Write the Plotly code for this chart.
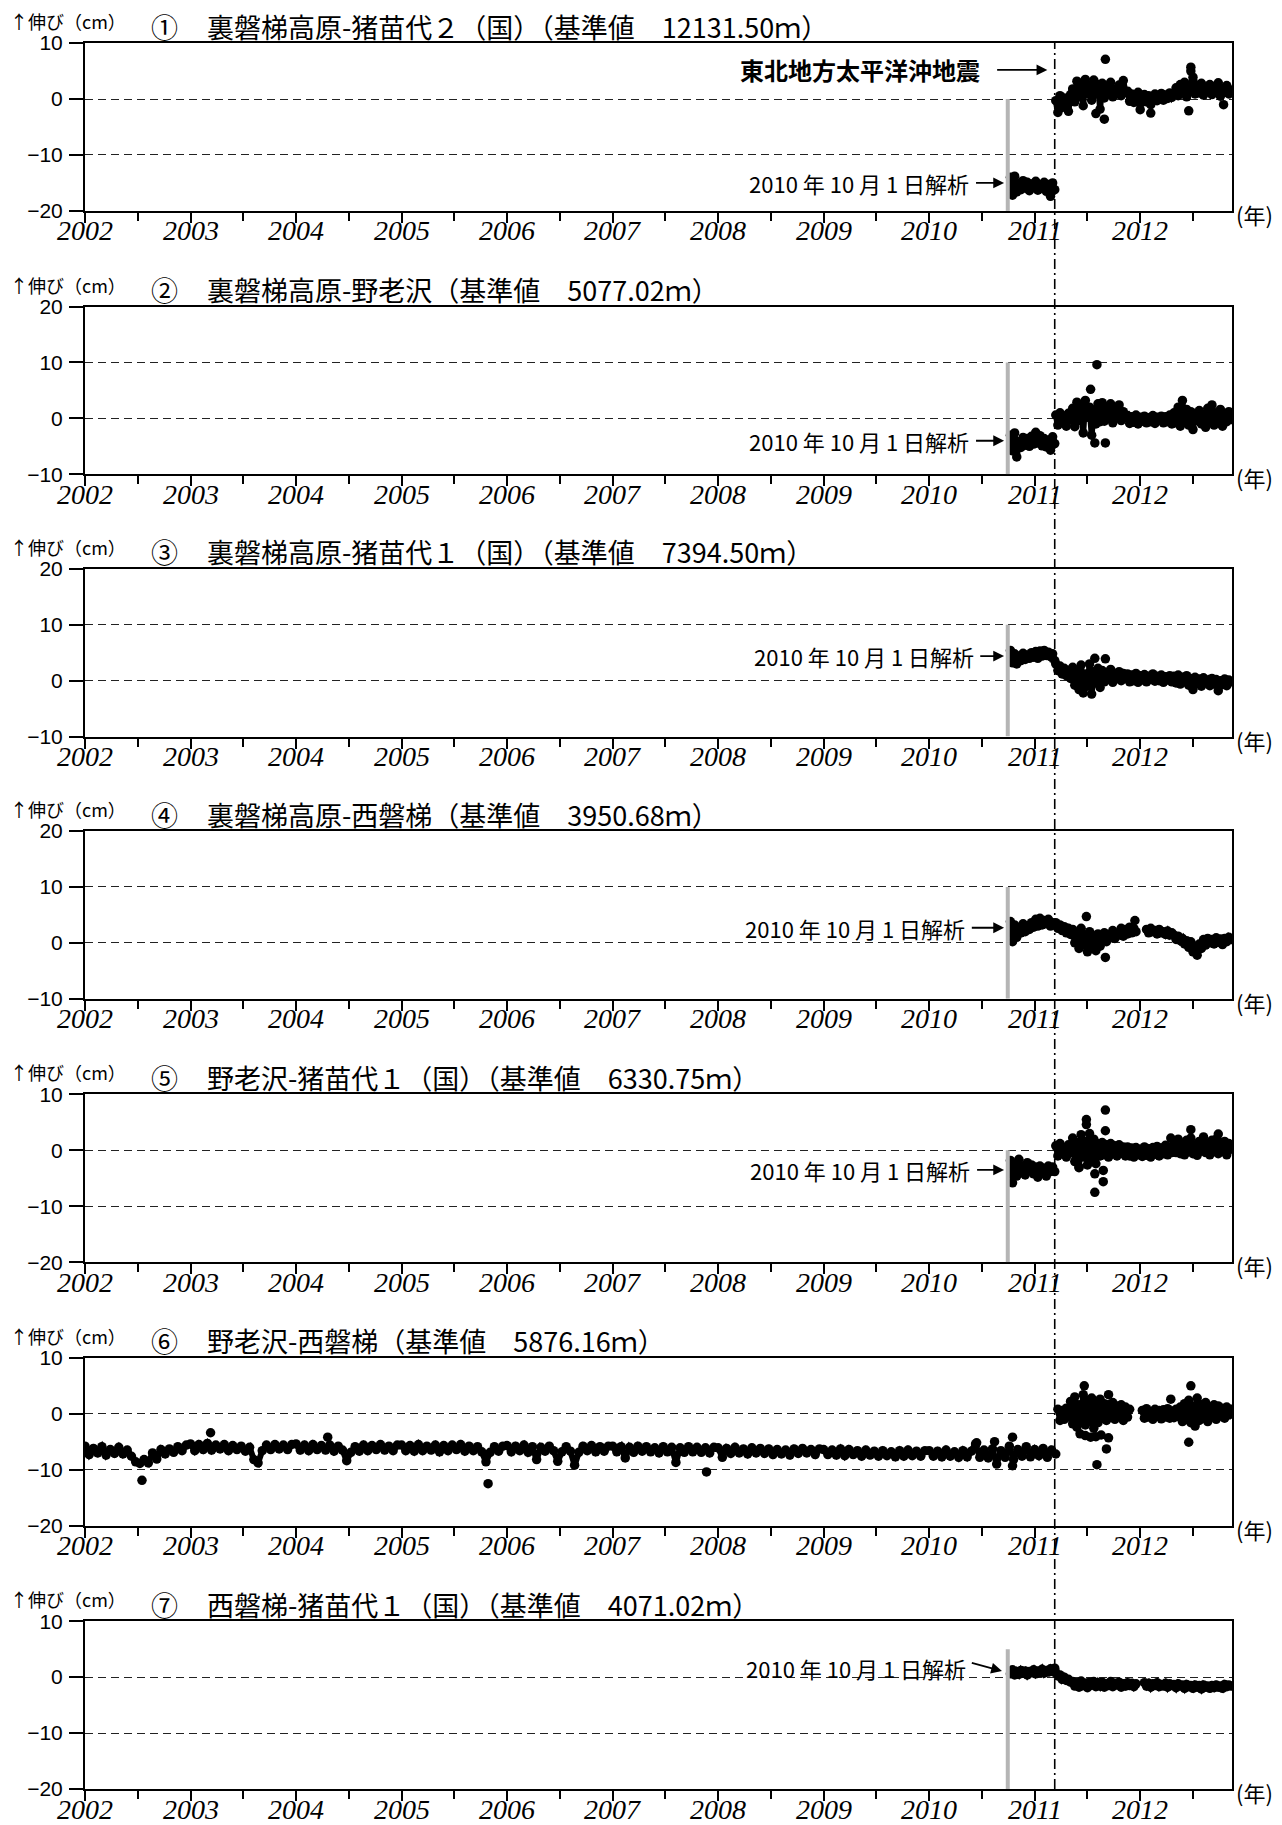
import plotly.graph_objects as go

W, H = 1282, 1825          # browser window
OFF = 8                     # default page body margin
FW, FH = W - OFF, H - OFF   # figure size so it fits the window

STEP = 0.02
PRE_START = 2010.77
POST_START = 2011.20
P6_STEP = 0.04
P6_START = 2002.00
P6_POST_START = 2011.22
QUAKE = 2011.19
REANALYSIS = 2010.745

circled = ["①", "②", "③", "④", "⑤", "⑥", "⑦"]
titles = [
    "裏磐梯高原-猪苗代２（国）（基準値　12131.50ｍ）",
    "裏磐梯高原-野老沢（基準値　5077.02ｍ）",
    "裏磐梯高原-猪苗代１（国）（基準値　7394.50ｍ）",
    "裏磐梯高原-西磐梯（基準値　3950.68ｍ）",
    "野老沢-猪苗代１（国）（基準値　6330.75ｍ）",
    "野老沢-西磐梯（基準値　5876.16ｍ）",
    "西磐梯-猪苗代１（国）（基準値　4071.02ｍ）",
]
y_ranges = [[-20, 10], [-10, 20], [-10, 20], [-10, 20], [-20, 10], [-20, 10], [-20, 10]]
x_range = [2002, 2012.87]
x_tick_years = list(range(2002, 2013))

# ---- panel 1 ----
p1_pre = [-14.0, -17.2, -13.8, -16.6, -15.0, -16.2, -14.6, -15.9, -14.9, -16.4, -15.2,
          -15.8, -14.7, -16.3, -15.4, -16.0, -14.9, -16.5, -15.3, -17.4, -15.0, -16.2]
p1_post = [-0.3, -2.4, 0.6, -1.5, 0.2, -0.8, -2.2, 0.8,
           1.8, -0.5, 3.2, 0.4, 2.8, -1.2, 3.5, 1.0, 2.4, -0.2, 3.4, 0.9, 2.6, -1.8,
           2.8, 0.2, 2.2, 1.0, 3.0, 0.4, 1.8, 0.9, 2.5, 0.6, 3.3, 1.2,
           1.4, -0.4, 0.9, -0.6, 0.5, 1.2, -0.8, 0.2, 0.8, -0.5, 0.6, -1.0, 0.4, 0.9, -0.3, 0.5,
           1.0, -0.2, 0.7, 0.1, 1.1, 0.3,
           0.8, 2.0, 0.6, 2.6, 1.2, 3.0, 0.4, 2.2, 1.5, 3.2, 0.9, 2.4, 1.1, 2.8, 0.7, 2.0,
           1.6, 2.6, 0.8, 2.2, 1.3, 2.9, 0.5, 1.9, 1.2, 2.4, 0.9, 1.6]
p1_out_x = [2011.67, 2011.58, 2011.66, 2012.00, 2012.10, 2012.48, 2012.48, 2012.50, 2012.46, 2012.79]
p1_out_y = [7.1, -2.6, -3.6, -1.9, -2.5, 5.7, 5.0, 3.9, -2.1, -1.0]

# ---- panel 2 ----
p2_pre = [-3.0, -5.8, -2.6, -6.9, -4.2, -5.2, -3.4, -4.8, -3.6, -5.0, -3.2,
          -4.6, -2.5, -4.4, -3.1, -4.9, -3.6, -5.1, -3.9, -5.7, -3.3, -4.5]
p2_post = [0.6, -1.2, 1.0, -0.8, 0.4, -1.4, 0.9, -0.3,
           1.8, -1.5, 2.9, -0.4, 2.2, -2.6, 3.2, 0.2, 2.0, -3.0, 1.4, -1.0, 2.6, -0.6,
           2.8, -0.5, 2.0, 0.0, 2.6, -0.8, 1.6, 0.4, 2.4, -0.4, 1.2, 0.2,
           0.5, -0.9, 0.3, -0.7, 0.6, -1.0, 0.2, -0.5, 0.4, -0.8, 0.1, -0.6, 0.5, -0.9, 0.2, -0.4,
           0.4, -0.8, 0.3, -0.6, 0.6, -1.0,
           1.0, -0.8, 2.0, -1.4, 3.2, -0.6, 1.6, -1.2, 1.2, -2.0, 0.8, -0.4, 1.4, -1.0, 0.6, -1.6,
           1.8, -0.5, 2.4, -1.2, 1.0, -0.8, 1.6, -1.4, 0.8, -0.6, 1.2, -0.2]
p2_out_x = [2011.53, 2011.59, 2011.57, 2011.67]
p2_out_y = [5.2, 9.6, -4.4, -4.4]

# ---- panel 3 ----
p3_pre = [5.4, 3.2, 4.8, 3.0, 4.4, 3.6, 4.9, 3.8, 4.6, 4.0, 5.0,
          4.2, 5.2, 4.0, 5.3, 4.4, 5.4, 4.5, 5.1, 4.3, 4.8, 3.6]
p3_post = [3.0, 1.8, 2.6, 1.2, 2.2, 0.9, 1.8, 0.4,
           2.4, -0.8, 1.8, -1.6, 2.8, -2.2, 1.2, -1.0, 3.0, -2.4, 1.6, -0.4, 2.2, -1.2,
           1.8, -0.2, 1.4, 0.2, 2.0, -0.3, 1.2, 0.4, 1.6, 0.0, 1.3, 0.5,
           1.2, -0.2, 1.0, 0.0, 1.3, -0.3, 0.9, 0.1, 1.1, -0.2, 0.8, 0.2, 1.2, -0.1, 0.8, 0.0,
           1.0, -0.3, 0.7, 0.1, 0.9, -0.2,
           0.8, -0.4, 1.0, -0.6, 0.6, -0.2, 0.9, -0.8, 0.4, -1.6, 0.6, -0.5, 0.3, -1.0, 0.5, -0.3,
           0.1, -0.9, 0.4, -0.6, 0.2, -1.8, 0.0, -0.7, 0.3, -0.9, 0.1, -0.2]
p3_out_x = [2011.57, 2011.67]
p3_out_y = [4.0, 3.9]

# ---- panel 4 ----
p4_pre = [3.8, 0.2, 3.2, 1.0, 2.6, 1.8, 3.4, 2.0, 3.0, 2.4, 3.6,
          2.8, 4.2, 3.0, 4.4, 3.2, 4.0, 3.4, 4.2, 3.0, 3.6, 3.2]
p4_post = [3.6, 2.6, 3.2, 2.2, 2.9, 1.8, 2.6, 1.5,
           2.4, 0.0, 1.8, -1.0, 2.6, -0.4, 1.4, -1.6, 2.0, -0.8, 1.2, -1.4, 1.6, -0.6,
           0.6, 1.8, 0.2, 1.4, 1.0, 2.2, 0.8, 1.6, 1.4, 2.6, 1.2, 2.4,
           1.6, 2.8, 1.8, 2.6, 2.0, None, None, None, None,
           2.4, 1.8, 2.6, 2.0, 2.2, 1.6, 2.4, 1.8, 2.0, 1.5, 2.1, 1.4, 1.8,
           1.4, 0.6, 1.2, 0.4, 0.8, -0.2, 0.4, -0.8, 0.2, -1.6, -0.6, -2.2, -0.2, -1.0, 0.6, -0.4,
           0.8, 0.0, 0.6, -0.2, 0.9, 0.1, 0.7, -0.3, 0.8, 0.2, 1.0, 0.6]
p4_out_x = [2011.49, 2011.67, 2011.95]
p4_out_y = [4.7, -2.6, 4.0]

# ---- panel 5 ----
p5_pre = [-1.8, -5.8, -2.4, -4.6, -1.6, -4.0, -2.8, -4.4, -2.2, -3.6, -2.6,
          -4.2, -3.0, -4.8, -2.8, -4.0, -3.2, -4.6, -2.8, -3.8, -3.0, -3.8]
p5_post = [0.8, -1.0, 1.2, -0.6, 0.4, -1.2, 1.0, -0.4,
           2.2, -2.0, 1.4, -3.0, 2.8, -1.2, 1.6, -2.6, 3.0, -1.8, 2.0, -2.4, 1.2, -1.0,
           1.4, -0.8, 1.0, -1.2, 1.2, -0.6, 0.8, -1.0, 1.0, -0.4, 0.6, -1.0,
           0.6, -1.0, 0.4, -1.2, 0.5, -0.8, 0.2, -1.1, 0.6, -0.9, 0.3, -1.2, 0.5, -0.7, 0.7, -1.0,
           0.4, -0.6, 0.9, -0.8, 0.5, -0.4,
           1.4, -0.4, 2.0, -0.6, 1.2, -0.8, 1.8, -0.2, 2.2, -0.6, 1.0, -0.9, 1.6, 0.0, 2.4, -0.4,
           1.2, -0.8, 1.8, -0.2, 2.0, -0.6, 1.4, -0.2, 1.6, -0.8, 1.2, 0.2]
p5_out_x = [2011.49, 2011.49, 2011.67, 2011.67, 2011.42, 2011.57, 2011.65, 2011.65, 2011.57,
            2012.29, 2012.48, 2012.74]
p5_out_y = [5.5, 4.6, 7.2, 3.5, -3.1, -4.2, -3.6, -5.6, -7.5, 2.2, 3.7, 2.9]

# ---- panel 6 (long record, 2002 onward) ----
p6_long = [
    # 2002
    -5.8, -7.3, -6.2, -7.0, -5.9, -7.4, -6.4, -7.1, -6.0, -7.2, -6.5, -7.6, -8.6, -8.9, -8.2,
    -8.8, -7.0, -8.1, -6.4, -7.2, -6.3, -6.9, -5.9, -6.6, -5.6,
    # 2003
    -5.4, -6.6, -5.5, -6.4, -5.3, -6.5, -5.6, -6.3, -5.5, -6.6, -5.7, -6.4, -5.8, -6.7, -6.0,
    -8.2, -8.8, -6.6, -5.6, -6.4, -5.5, -6.3, -5.6, -6.4, -5.5,
    # 2004
    -5.4, -6.5, -5.6, -6.6, -5.5, -6.4, -5.7, -6.5, -5.6, -6.7, -5.8, -6.5, -8.4, -6.9, -5.9,
    -6.7, -5.6, -6.6, -5.7, -6.4, -5.5, -6.5, -5.8, -6.6, -5.6,
    # 2005
    -5.6, -6.6, -5.7, -6.7, -5.5, -6.6, -5.8, -6.5, -5.6, -6.8, -5.7, -6.6, -5.6, -6.4, -5.5,
    -6.7, -5.8, -6.6, -5.9, -6.8, -8.6, -6.9, -5.9, -6.7, -5.8,
    # 2006
    -5.7, -6.8, -5.8, -6.6, -5.6, -6.9, -5.9, -8.2, -6.0, -6.7, -5.8, -6.6, -8.5, -6.8, -5.9,
    -6.7, -9.2, -6.9, -5.8, -6.6, -5.7, -6.8, -5.9, -6.7, -5.8,
    # 2007
    -5.8, -6.8, -5.9, -7.9, -6.0, -6.9, -5.8, -6.7, -5.9, -6.8, -6.1, -7.0, -5.9, -6.8, -6.0,
    -8.7, -6.1, -6.9, -5.9, -6.8, -6.0, -6.9, -6.1, -7.0, -6.0,
    # 2008
    -6.1, -7.8, -6.2, -7.1, -6.0, -7.0, -6.3, -7.2, -6.1, -7.0, -6.2, -7.1, -6.3, -7.3, -6.4,
    -7.2, -6.5, -7.4, -6.3, -7.1, -6.2, -7.0, -6.4, -7.3, -6.3,
    # 2009
    -6.4, -7.3, -6.5, -7.4, -6.3, -7.5, -6.4, -7.3, -6.6, -7.6, -6.5, -7.4, -6.7, -7.6, -6.6,
    -7.5, -6.8, -7.7, -6.6, -7.6, -6.5, -7.5, -6.7, -7.6, -6.6,
    # 2010
    -6.6, -7.6, -6.7, -7.7, -6.5, -7.6, -6.8, -7.8, -6.6, -7.7, -6.7, -5.4, -7.8, -6.5, -7.9,
    -6.3, -9.0, -6.6, -7.8, -5.8, -8.2, -6.4, -7.6, -5.9, -7.7,
    # 2011 (to the earthquake)
    -6.4, -7.5, -6.2, -7.8, -6.5, -7.2,
]
p6_post = [0.8, -1.2, 0.6, -1.0, 1.0, -0.6,
           2.2, -1.8, 3.0, -2.4, 1.6, -1.2, 3.4, -2.0, 2.4, -1.4, 2.8, -2.6, 1.8, -1.6, 2.6,
           -0.8, 1.8, -1.2, 1.6, -0.6, 2.0, -1.0, 1.4, -0.4, 1.6, -1.2, 1.2, -0.6, 0.8,
           None, None, None, None, None,
           0.6, -0.8, 0.9, -0.6, 0.4, -1.0, 0.8, -0.4, 0.6, -0.9, 0.7, -0.6, 0.9, -0.8, 0.5,
           -0.7, 0.8, -0.5, 1.2, -1.4, 1.8, -1.0, 2.4, -1.6, 1.4, -2.2, 2.8, -1.2, 1.6, -0.8,
           2.0, -1.4, 1.2, -0.6, 1.6, -1.0, 1.4, -0.4, 1.0, -0.8, 1.2, -0.2, 0.8]
p6_out_x = [2002.54, 2003.19, 2004.30, 2005.82, 2007.89, 2010.45, 2010.62, 2010.79, 2010.79,
            2011.43, 2011.48, 2011.53, 2011.58, 2011.63, 2011.70, 2011.68, 2011.59,
            2011.47, 2011.70, 2012.29, 2012.48, 2012.46]
p6_out_y = [-11.9, -3.4, -4.2, -12.5, -10.4, -5.2, -5.0, -4.2, -9.3,
            -3.6, -3.9, -4.2, -4.1, -3.8, -4.3, -6.3, -9.1,
            5.0, 3.4, 2.6, 5.0, -5.1]

# ---- panel 7 ----
p7_pre = [0.6, 1.3, 0.4, 1.0, 0.5, 1.2, 0.7, 1.1, 0.4, 1.0, 0.8,
          1.3, 0.6, 1.1, 0.8, 1.4, 0.7, 1.2, 0.9, 1.5, 1.0, 1.6]
p7_post = [0.8, 0.2, 0.4, -0.4, 0.0, -0.6, -0.4, -0.9,
           -0.8, -1.6, -1.0, -1.8, -0.7, -1.5, -1.1, -1.9, -0.9, -1.4, -0.8, -1.7, -1.0, -1.6,
           -0.9, -1.8, -1.2, -1.5, -0.8, -1.7, -1.1, -1.4, -0.9, -1.8, -1.2, -1.6, -1.0, -1.5,
           -1.1, -1.7, -1.2,
           None, None, None,
           -1.0, -1.6, -1.1, -1.8, -1.2, -1.5, -1.0, -1.7, -1.3, -1.6, -1.1, -1.8, -1.2, -1.5,
           -1.3, -1.9, -1.2, -1.6, -1.4, -2.0, -1.3, -1.7, -1.5, -2.0, -1.4, -1.8, -1.5, -2.1,
           -1.4, -1.8, -1.6, -2.0, -1.5, -1.9, -1.4, -1.8, -1.6, -2.0, -1.3, -1.7, -1.4, -1.6]
p7_out_x = []
p7_out_y = []

# "2010年10月1日解析" labels: panel, y value, year of text right end
label_panels = [0, 1, 2, 3, 4, 6]
label_y = [-15.0, -4.0, 4.4, 2.7, -3.5, 1.7]
label_right = [2010.40, 2010.40, 2010.44, 2010.36, 2010.41, 2010.37]
gray_bar_y = [[-20, 0], [-10, 10], [-10, 10], [-10, 10], [-20, 0], None, [-20, 5]]


def dates(start, step, n):
    return [round(start + step * i, 4) for i in range(n)]


series = [
    (p1_pre, p1_post, p1_out_x, p1_out_y),
    (p2_pre, p2_post, p2_out_x, p2_out_y),
    (p3_pre, p3_post, p3_out_x, p3_out_y),
    (p4_pre, p4_post, p4_out_x, p4_out_y),
    (p5_pre, p5_post, p5_out_x, p5_out_y),
    (None, p6_post, p6_out_x, p6_out_y),
    (p7_pre, p7_post, p7_out_x, p7_out_y),
]

# ---------------- layout geometry (window pixels) ----------------
tops = [43.1, 306.5, 568.8, 831.0, 1094.4, 1357.8, 1621.2]
ph = 167.8
xl, xr = 85, 1232


def px(p):  # window pixel -> paper x
    return (p - OFF) / FW


def py(p):  # window pixel -> paper y
    return 1 - (p - OFF) / FH


fig = go.Figure()
MK = dict(color="black", size=9.5, line=dict(width=0))
LN = dict(color="black", width=6)

for k in range(7):
    xa = "x" if k == 0 else f"x{k+1}"
    ya = "y" if k == 0 else f"y{k+1}"
    pre, post, ox, oy = series[k]
    if k == 5:
        xs = dates(P6_START, P6_STEP, len(p6_long)) + [None] + dates(P6_POST_START, STEP, len(post))
        ys = p6_long + [None] + post
    else:
        xs = dates(PRE_START, STEP, len(pre)) + [None] + dates(POST_START, STEP, len(post))
        ys = pre + [None] + post
    fig.add_trace(go.Scatter(x=xs, y=ys, mode="lines+markers", marker=MK, line=LN,
                             connectgaps=False, xaxis=xa, yaxis=ya,
                             showlegend=False, hoverinfo="skip"))
    if len(ox):
        fig.add_trace(go.Scatter(x=ox, y=oy, mode="markers", marker=MK, xaxis=xa, yaxis=ya,
                                 showlegend=False, hoverinfo="skip"))

layout = dict(template="none", width=FW, height=FH,
              margin=dict(l=0, r=0, t=0, b=0, pad=0, autoexpand=False), autosize=False,
              paper_bgcolor="white", plot_bgcolor="white", showlegend=False)

annotations = []
shapes = []
for k in range(7):
    xk = "xaxis" if k == 0 else f"xaxis{k+1}"
    yk = "yaxis" if k == 0 else f"yaxis{k+1}"
    xa = "x" if k == 0 else f"x{k+1}"
    ya = "y" if k == 0 else f"y{k+1}"
    top = tops[k]
    bot = top + ph
    layout[xk] = dict(
        domain=[px(xl), px(xr)], range=x_range, anchor=ya, automargin=False,
        tickmode="array", tickvals=x_tick_years, showticklabels=False,
        ticks="outside", ticklen=10, tickwidth=1.5, tickcolor="black",
        minor=dict(tickmode="array", tickvals=[v + 0.5 for v in x_tick_years],
                   ticks="outside", ticklen=8, tickwidth=1.5, tickcolor="black", showgrid=False),
        showline=True, linecolor="black", linewidth=2, mirror=True,
        showgrid=False, zeroline=False,
    )
    yr = y_ranges[k]
    layout[yk] = dict(
        domain=[py(bot), py(top)], range=yr, anchor=xa, automargin=False,
        tickmode="linear", tick0=yr[0], dtick=10,
        ticks="outside", ticklen=14, tickwidth=1.5, tickcolor="black",
        showline=True, linecolor="black", linewidth=2, mirror=True,
        showgrid=True, gridcolor="#222222", gridwidth=1, griddash="8px,5px",
        zeroline=False, ticklabelstandoff=2,
        tickfont=dict(family="Liberation Sans", size=21, color="black"),
    )
    # year labels under each panel (italic serif)
    for yv in x_tick_years:
        annotations.append(dict(text=str(yv), xref=xa, yref="paper", x=yv, y=py(bot + 20),
                                xanchor="center", yanchor="middle", showarrow=False,
                                font=dict(family="Liberation Serif", size=28, color="black",
                                          style="italic")))
    # titles
    annotations.append(dict(text="↑伸び（cm）", xref="paper", yref="paper", x=px(8),
                            y=py(top - 22), xanchor="left", yanchor="middle", showarrow=False,
                            font=dict(family="Noto Sans CJK JP", size=18, color="black")))
    annotations.append(dict(text=circled[k], xref="paper", yref="paper", x=px(149),
                            y=py(top - 17), xanchor="left", yanchor="middle", showarrow=False,
                            font=dict(family="Noto Sans CJK JP", size=27, color="black")))
    annotations.append(dict(text=titles[k], xref="paper", yref="paper", x=px(205),
                            y=py(top - 17), xanchor="left", yanchor="middle", showarrow=False,
                            font=dict(family="Noto Sans CJK JP", size=27, color="black")))
    annotations.append(dict(text="(年)", xref="paper", yref="paper", x=px(1234),
                            y=py(bot + 3), xanchor="left", yanchor="middle", showarrow=False,
                            font=dict(family="Noto Sans CJK JP", size=22, color="black")))
    # gray re-analysis bar
    if gray_bar_y[k] is not None:
        shapes.append(dict(type="line", xref=xa, yref=ya, x0=REANALYSIS, x1=REANALYSIS,
                           y0=gray_bar_y[k][0], y1=gray_bar_y[k][1],
                           line=dict(color="#b5b5b5", width=4), layer="above"))

for i, k in enumerate(label_panels):
    xa = "x" if k == 0 else f"x{k+1}"
    ya = "y" if k == 0 else f"y{k+1}"
    annotations.append(dict(text="2010 年 10 月 1 日解析", xref=xa, yref=ya, x=label_right[i],
                            y=label_y[i], xanchor="right", yanchor="middle", showarrow=False,
                            font=dict(family="Noto Sans CJK JP", size=22, color="black")))
    if k == 6:
        tail = (label_right[i] + 0.02, label_y[i] + 0.9)
        head = (2010.69, 1.1)
    else:
        tail = (label_right[i] + 0.03, label_y[i])
        head = (2010.71, label_y[i])
    annotations.append(dict(text="", xref=xa, yref=ya, x=head[0], y=head[1],
                            axref=xa, ayref=ya, ax=tail[0], ay=tail[1], showarrow=True,
                            arrowhead=2, arrowsize=1.2, arrowwidth=1.8, arrowcolor="black",
                            standoff=0, startstandoff=0))

# earthquake label
annotations.append(dict(text="<b>東北地方太平洋沖地震</b>", xref="x", yref="y", x=2010.50, y=5.2,
                        xanchor="right", yanchor="middle", showarrow=False,
                        font=dict(family="Noto Sans CJK JP", size=24, color="black")))
annotations.append(dict(text="", xref="x", yref="y", x=2011.12, y=5.2, axref="x", ayref="y",
                        ax=2010.63, ay=5.2, showarrow=True, arrowhead=2, arrowsize=1.2,
                        arrowwidth=1.8, arrowcolor="black", standoff=0))

# earthquake vertical dash-dot line through all panels
shapes.append(dict(type="line", xref="x", yref="paper", x0=QUAKE, x1=QUAKE,
                   y0=py(tops[6] + ph), y1=py(tops[0]),
                   line=dict(color="black", width=1.6, dash="10px,4px,2px,4px"), layer="above"))

layout["annotations"] = annotations
layout["shapes"] = shapes
fig.update_layout(**layout)
fig.write_html("out.html")
